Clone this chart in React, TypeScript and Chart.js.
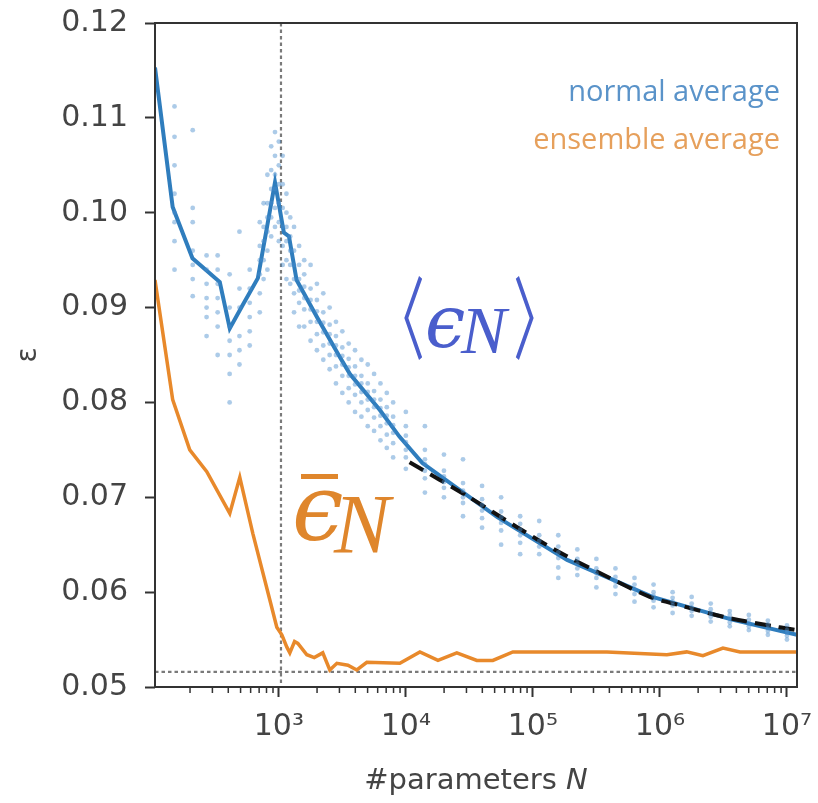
import React, { useEffect, useRef } from 'react';
import { Chart, registerables } from 'chart.js';
Chart.register(...registerables);

// ---------- data ----------
const xMin = 106;
const xMax = 12000000;
const yMin = 0.05;
const yMax = 0.12;
const xTickValues = [200, 300, 400, 500, 600, 700, 800, 900, 1000, 2000, 3000, 4000, 5000, 6000, 7000, 8000, 9000, 10000, 20000, 30000, 40000, 50000, 60000, 70000, 80000, 90000, 100000, 200000, 300000, 400000, 500000, 600000, 700000, 800000, 900000, 1000000, 2000000, 3000000, 4000000, 5000000, 6000000, 7000000, 8000000, 9000000, 10000000];
const xTickLabels: Record<number, string> = { 1000: '10³', 10000: '10⁴', 100000: '10⁵', 1000000: '10⁶', 10000000: '10⁷' };

// normal average (blue line)
const normalN = [106, 146, 209, 343, 411, 521, 684, 933, 1096, 1202, 1380, 1995, 3020, 3630, 6240, 8900, 13500, 52500, 186000, 871000, 3700000, 12000000];
const normalY = [0.1153, 0.1006, 0.0952, 0.0927, 0.0878, 0.0903, 0.0931, 0.1032, 0.0979, 0.0975, 0.0929, 0.0890, 0.0848, 0.0830, 0.0792, 0.0764, 0.0736, 0.0679, 0.0634, 0.0595, 0.0571, 0.0555];

// ensemble average (orange line)
const ensembleN = [106, 146, 199, 271, 411, 493, 624, 849, 964, 1056, 1157, 1221, 1330, 1412, 1662, 1900, 2218, 2520, 2865, 3500, 4110, 4930, 8970, 12900, 17900, 25200, 36200, 48400, 69600, 383000, 1135000, 1625000, 2180000, 3135000, 4270000, 12000000];
const ensembleY = [0.0929, 0.0803, 0.0750, 0.0727, 0.0683, 0.0721, 0.0662, 0.0592, 0.0563, 0.0555, 0.0542, 0.0536, 0.0548, 0.0546, 0.0534, 0.0531, 0.0536, 0.0518, 0.0525, 0.0523, 0.0518, 0.0526, 0.0525, 0.0537, 0.0528, 0.0536, 0.0528, 0.0528, 0.0537, 0.0537, 0.0534, 0.0537, 0.0533, 0.0541, 0.0537, 0.0537];

// power-law fit (black dashed)
const fitN = [10700, 31600, 74100, 162000, 316000, 832000, 1445000, 3160000, 8710000, 12000000];
const fitY = [0.0737, 0.0700, 0.0669, 0.0642, 0.0622, 0.0595, 0.0586, 0.0574, 0.0563, 0.0560];

// individual runs (scatter columns)
const runN = [151, 210, 270, 330, 410, 490, 590, 708, 759, 813, 871, 933, 1000, 1072, 1148, 1230, 1318, 1445, 1585, 1778, 1995, 2239, 2512, 2818, 3162, 3548, 3981, 4467, 5012, 5623, 6310, 7079, 7943, 10000, 14125, 19953, 28184, 39811, 56234, 79433, 112202, 158489, 223872, 316228, 446684, 630957, 891251, 1258925, 1778279, 2511886, 3548134, 5011872, 7079458, 10000000];
const runY = [
  [0.1112, 0.1080, 0.1050, 0.1020, 0.1000, 0.0990, 0.0970, 0.0940],
  [0.1087, 0.1005, 0.0990, 0.0960, 0.0945, 0.0930, 0.0912],
  [0.0955, 0.0940, 0.0925, 0.0910, 0.0900, 0.0890, 0.0870],
  [0.0955, 0.0940, 0.0925, 0.0910, 0.0895, 0.0880, 0.0850],
  [0.0935, 0.0900, 0.0880, 0.0865, 0.0850, 0.0830, 0.0800],
  [0.0980, 0.0920, 0.0900, 0.0870, 0.0855, 0.0840],
  [0.0940, 0.0920, 0.0905, 0.0890, 0.0875, 0.0860],
  [0.0990, 0.0965, 0.0950, 0.0935, 0.0915, 0.0895],
  [0.1010, 0.0985, 0.0970, 0.0950, 0.0930],
  [0.1040, 0.1010, 0.0995, 0.0980, 0.0960, 0.0940],
  [0.1070, 0.1045, 0.1025, 0.1010, 0.0995, 0.0975],
  [0.1085, 0.1060, 0.1040, 0.1025, 0.1005, 0.0985],
  [0.1075, 0.1050, 0.1030, 0.1010, 0.0990, 0.0970],
  [0.1060, 0.1030, 0.1005, 0.0985, 0.0965, 0.0945],
  [0.1020, 0.1000, 0.0985, 0.0970, 0.0950, 0.0930],
  [0.0995, 0.0975, 0.0960, 0.0945, 0.0925],
  [0.0985, 0.0960, 0.0945, 0.0930, 0.0915, 0.0895],
  [0.0965, 0.0945, 0.0930, 0.0918, 0.0905, 0.0880],
  [0.0950, 0.0935, 0.0922, 0.0910, 0.0898, 0.0880],
  [0.0945, 0.0920, 0.0908, 0.0898, 0.0885, 0.0865],
  [0.0925, 0.0908, 0.0896, 0.0885, 0.0872, 0.0855],
  [0.0915, 0.0895, 0.0884, 0.0874, 0.0860, 0.0845],
  [0.0900, 0.0882, 0.0872, 0.0862, 0.0850, 0.0835],
  [0.0885, 0.0870, 0.0860, 0.0850, 0.0838, 0.0820],
  [0.0875, 0.0858, 0.0849, 0.0840, 0.0828, 0.0810],
  [0.0862, 0.0846, 0.0837, 0.0828, 0.0815, 0.0800],
  [0.0855, 0.0838, 0.0828, 0.0819, 0.0808, 0.0790],
  [0.0845, 0.0828, 0.0820, 0.0811, 0.0800, 0.0785],
  [0.0840, 0.0820, 0.0811, 0.0803, 0.0792, 0.0775],
  [0.0830, 0.0812, 0.0803, 0.0795, 0.0784, 0.0770],
  [0.0820, 0.0803, 0.0794, 0.0786, 0.0775, 0.0760],
  [0.0810, 0.0795, 0.0786, 0.0778, 0.0766, 0.0752],
  [0.0800, 0.0785, 0.0776, 0.0768, 0.0757, 0.0742],
  [0.0790, 0.0775, 0.0765, 0.0758, 0.0750, 0.0742, 0.0730],
  [0.0775, 0.0750, 0.0740, 0.0735, 0.0728, 0.0720, 0.0705],
  [0.0745, 0.0728, 0.0722, 0.0716, 0.0710, 0.0700],
  [0.0740, 0.0715, 0.0707, 0.0700, 0.0694, 0.0680],
  [0.0712, 0.0698, 0.0692, 0.0686, 0.0678, 0.0668],
  [0.0700, 0.0685, 0.0679, 0.0673, 0.0665, 0.0650],
  [0.0680, 0.0672, 0.0666, 0.0660, 0.0652, 0.0640],
  [0.0675, 0.0660, 0.0654, 0.0648, 0.0640],
  [0.0660, 0.0648, 0.0642, 0.0636, 0.0626, 0.0615],
  [0.0645, 0.0635, 0.0630, 0.0625, 0.0618],
  [0.0635, 0.0625, 0.0620, 0.0615, 0.0605],
  [0.0625, 0.0616, 0.0611, 0.0606, 0.0598],
  [0.0615, 0.0608, 0.0603, 0.0598, 0.0590],
  [0.0608, 0.0600, 0.0596, 0.0591, 0.0584],
  [0.0600, 0.0594, 0.0590, 0.0586, 0.0578],
  [0.0595, 0.0588, 0.0584, 0.0580, 0.0575],
  [0.0588, 0.0582, 0.0578, 0.0574, 0.0569],
  [0.0580, 0.0576, 0.0572, 0.0568, 0.0564],
  [0.0576, 0.0571, 0.0567, 0.0564, 0.0560],
  [0.0570, 0.0566, 0.0562, 0.0559, 0.0555],
  [0.0565, 0.0560, 0.0557, 0.0554, 0.0550],
];

// reference lines
const interpolationN = 1040;
const bestErrorY = 0.0516;

// annotation texts
const legendTexts = ['normal average', 'ensemble average'];
const xTitleMain = '#parameters ';
const xTitleVar = 'N';
const yTitle = 'ε';

// ---------- colors / styles ----------
const BLUE = '#2f7dbd';
const ORANGE = '#e8892b';
const BLUE_TEXT = '#5a93c9';
const ORANGE_TEXT = '#e6a05c';
const MATH_BLUE = '#4a5ecc';
const MATH_ORANGE = '#df862c';
const TICK_FONT = "'DejaVu Sans', sans-serif";

const pts = (xs: number[], ys: number[]) => xs.map((x, i) => ({ x, y: ys[i] }));
const runPts = runN.flatMap((n, i) => runY[i].map((y) => ({ x: n, y })));

const decorPlugin = {
  id: 'decor',
  beforeDatasetsDraw(chart: any) {
    const { ctx, chartArea: a, scales } = chart;
    const xs = scales.x;
    const ys = scales.y;
    ctx.save();
    ctx.strokeStyle = '#7a7a7a';
    ctx.lineWidth = 2.2;
    ctx.setLineDash([3.5, 3]);
    const vx = xs.getPixelForValue(interpolationN);
    ctx.beginPath();
    ctx.moveTo(vx, a.top);
    ctx.lineTo(vx, a.bottom);
    ctx.stroke();
    const hy = ys.getPixelForValue(bestErrorY);
    ctx.beginPath();
    ctx.moveTo(a.left, hy);
    ctx.lineTo(a.right, hy);
    ctx.stroke();
    ctx.restore();
  },
  afterDraw(chart: any) {
    const { ctx, chartArea: a, scales } = chart;
    const xs = scales.x;
    ctx.save();
    // frame
    ctx.strokeStyle = '#333';
    ctx.lineWidth = 2;
    ctx.strokeRect(a.left, a.top, a.right - a.left, a.bottom - a.top);
    // minor ticks
    ctx.beginPath();
    for (const v of xTickValues) {
      if (xTickLabels[v]) continue;
      const px = xs.getPixelForValue(v);
      ctx.moveTo(px, a.bottom);
      ctx.lineTo(px, a.bottom + 6);
    }
    ctx.lineWidth = 1.5;
    ctx.stroke();

    // legend texts
    ctx.textAlign = 'right';
    ctx.textBaseline = 'alphabetic';
    ctx.font = "29px 'Open Sans'";
    ctx.fillStyle = BLUE_TEXT;
    ctx.fillText(legendTexts[0], 780, 101);
    ctx.fillStyle = ORANGE_TEXT;
    ctx.fillText(legendTexts[1], 780, 149);

    // x title with italic N
    ctx.fillStyle = '#444';
    ctx.textAlign = 'left';
    ctx.font = "29px 'DejaVu Sans'";
    const w1 = ctx.measureText(xTitleMain).width;
    ctx.font = "italic 29px 'DejaVu Sans'";
    const w2 = ctx.measureText(xTitleVar).width;
    const cx = (a.left + a.right) / 2;
    const sx = cx - (w1 + w2) / 2;
    ctx.font = "29px 'DejaVu Sans'";
    ctx.fillText(xTitleMain, sx, 789);
    ctx.font = "italic 29px 'DejaVu Sans'";
    ctx.fillText(xTitleVar, sx + w1, 789);

    // math label <eps_N>
    ctx.fillStyle = MATH_BLUE;
    ctx.textAlign = 'center';
    ctx.font = "400 90px 'Noto Sans CJK JP'";
    ctx.save();
    ctx.translate(400, 0);
    ctx.scale(0.55, 1);
    ctx.fillText('〈', 0, 352);
    ctx.restore();
    ctx.save();
    ctx.translate(538, 0);
    ctx.scale(0.55, 1);
    ctx.fillText('〉', 0, 352);
    ctx.restore();
    ctx.textAlign = 'left';
    ctx.font = "italic 72px 'DejaVu Serif'";
    ctx.fillText('ϵ', 425, 347);
    ctx.font = "italic 68px 'Liberation Serif'";
    ctx.fillText('N', 461, 353);

    // math label bar-eps_N
    ctx.fillStyle = MATH_ORANGE;
    ctx.font = "italic 92px 'DejaVu Serif'";
    ctx.fillText('ϵ', 292, 540);
    ctx.fillRect(301, 474, 37, 5);
    ctx.font = "italic 84px 'Liberation Serif'";
    ctx.fillText('N', 334, 553);
    ctx.restore();
  },
};

export default function App() {
  const ref = useRef<HTMLCanvasElement>(null);
  useEffect(() => {
    const canvas = ref.current!;
    const chart = new Chart(canvas, {
      type: 'scatter',
      data: {
        datasets: [
          {
            label: 'runs',
            data: runPts,
            pointRadius: 2.4,
            pointBackgroundColor: 'rgba(70,140,205,0.45)',
            pointBorderWidth: 0,
            showLine: false,
          },
          {
            label: 'fit',
            data: pts(fitN, fitY),
            showLine: true,
            borderColor: '#111',
            borderWidth: 4,
            borderDash: [16, 8],
            pointRadius: 0,
            tension: 0.3,
          },
          {
            label: 'normal average',
            data: pts(normalN, normalY),
            showLine: true,
            borderColor: BLUE,
            borderWidth: 4,
            pointRadius: 0,
          },
          {
            label: 'ensemble average',
            data: pts(ensembleN, ensembleY),
            showLine: true,
            borderColor: ORANGE,
            borderWidth: 3.5,
            pointRadius: 0,
          },
        ] as any,
      },
      options: {
        responsive: false,
        animation: false,
        devicePixelRatio: 1,
        layout: { padding: { top: 23, right: 21, left: 0, bottom: 0 } },
        plugins: { legend: { display: false }, tooltip: { enabled: false } },
        scales: {
          x: {
            type: 'logarithmic',
            min: xMin,
            max: xMax,
            border: { display: false },
            grid: {
              display: true,
              drawOnChartArea: false,
              drawTicks: true,
              tickLength: 10,
              tickWidth: 2,
              tickColor: (c: any) => (c.tick && xTickLabels[c.tick.value] ? '#333' : 'rgba(0,0,0,0)'),
            },
            ticks: {
              autoSkip: false,
              maxRotation: 0,
              minRotation: 0,
              padding: 12,
              color: '#444',
              font: { family: TICK_FONT, size: 30 },
              callback: (v: any) => xTickLabels[Number(v)] ?? '',
            },
            afterBuildTicks: (s: any) => {
              s.ticks = xTickValues.map((v) => ({ value: v, major: !!xTickLabels[v] }));
            },
            afterFit: (s: any) => {
              s.height = 116;
              s.paddingLeft = 0;
              s.paddingRight = 0;
            },
          } as any,
          y: {
            type: 'linear',
            min: yMin,
            max: yMax,
            border: { display: false },
            grid: {
              display: true,
              drawOnChartArea: false,
              drawTicks: true,
              tickLength: 10,
              tickWidth: 2,
              tickColor: '#333',
            },
            ticks: {
              stepSize: 0.01,
              padding: 17,
              color: '#444',
              font: { family: TICK_FONT, size: 30 },
              callback: (v: any) => Number(v).toFixed(2),
            },
            title: {
              display: true,
              text: yTitle,
              color: '#444',
              font: { family: TICK_FONT, size: 28 },
              padding: { top: 12, bottom: 0 },
            },
            afterFit: (s: any) => {
              s.width = 155;
              s.paddingTop = 0;
              s.paddingBottom = 0;
            },
          } as any,
        },
      },
      plugins: [decorPlugin],
    });
    return () => chart.destroy();
  }, []);
  return (
    <div style={{ position: 'fixed', left: 0, top: 0, width: 818, height: 803, background: '#fff' }}>
      <canvas ref={ref} width={818} height={803} style={{ width: 818, height: 803, display: 'block' }} />
    </div>
  );
}
